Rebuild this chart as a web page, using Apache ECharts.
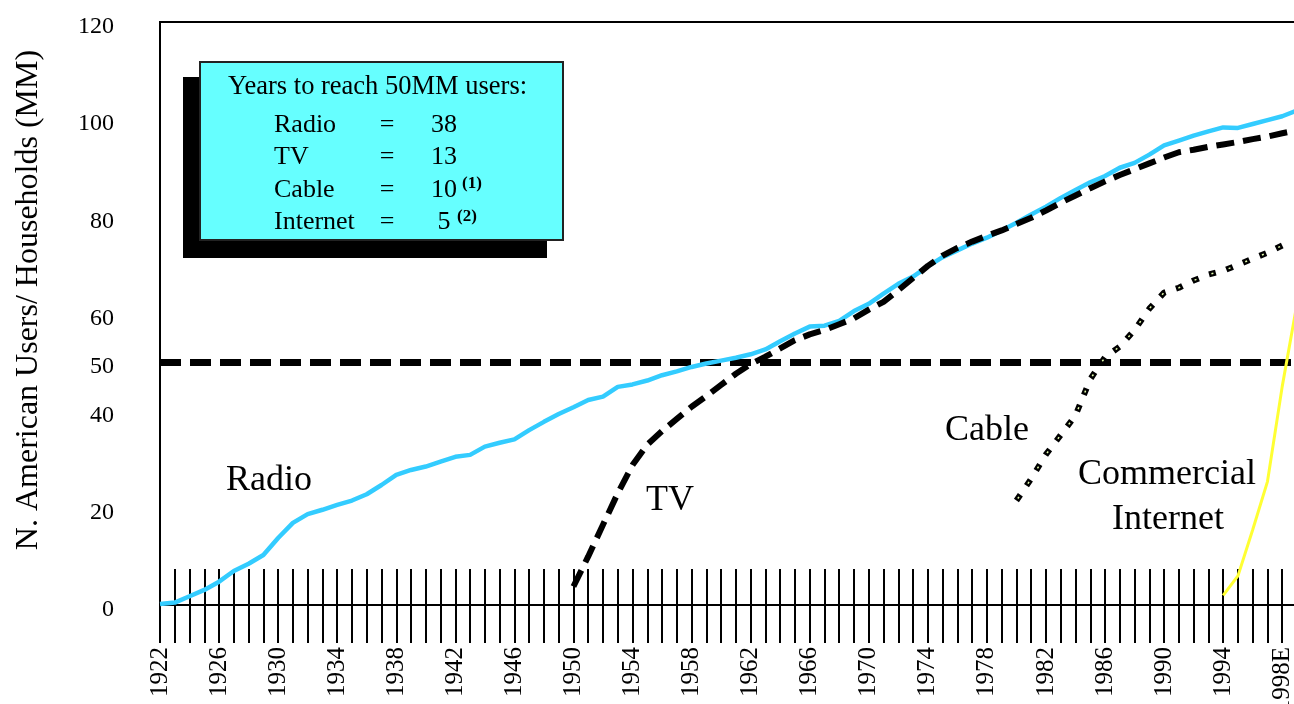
<!DOCTYPE html>
<html>
<head>
<meta charset="utf-8">
<script src="https://cdn.jsdelivr.net/npm/echarts@6/dist/echarts.min.js"></script>
<style>
  html, body { margin: 0; padding: 0; background: #fff; }
  #chart { width: 1294px; height: 704px; }
</style>
</head>
<body>
<div id="chart"></div>
<script>
// Years on the category axis (last slot runs just past the 1998 estimate)
const years = [
  '1922','1923','1924','1925','1926','1927','1928','1929','1930','1931',
  '1932','1933','1934','1935','1936','1937','1938','1939','1940','1941',
  '1942','1943','1944','1945','1946','1947','1948','1949','1950','1951',
  '1952','1953','1954','1955','1956','1957','1958','1959','1960','1961',
  '1962','1963','1964','1965','1966','1967','1968','1969','1970','1971',
  '1972','1973','1974','1975','1976','1977','1978','1979','1980','1981',
  '1982','1983','1984','1985','1986','1987','1988','1989','1990','1991',
  '1992','1993','1994','1995','1996','1997','1998E','1999'
];

// Radio households (MM), 1922 onward
const radio = [
  0.2, 0.5, 1.8, 3.1, 4.8, 7, 8.5, 10.3, 13.8, 16.9,
  18.7, 19.6, 20.6, 21.5, 22.8, 24.7, 26.8, 27.8, 28.5, 29.5,
  30.5, 30.9, 32.6, 33.4, 34.1, 36, 37.7, 39.3, 40.7, 42.2,
  42.9, 44.9, 45.4, 46.2, 47.3, 48.1, 49, 49.7, 50.3, 50.9,
  51.6, 52.6, 54.3, 55.9, 57.3, 57.5, 58.5, 60.5, 62, 64.1,
  66.1, 67.6, 69.7, 71.6, 73, 74.4, 75.6, 77.1, 78.7, 80.4,
  82, 83.8, 85.4, 87, 88.3, 90, 91, 92.7, 94.6, 95.6,
  96.6, 97.5, 98.3, 98.2, 99, 99.8, 100.6, 101.8
];

// TV households (MM), 1950 onward
const tvStart = '1950';
const tv = [
  3.8, 10, 16.5, 23, 28.8, 33, 35.8, 38.3, 40.8, 43,
  45.3, 47.6, 49.6, 51.1, 52.8, 54.5, 55.7, 56.6, 57.8, 59,
  60.8, 62.4, 64.8, 67.3, 69.8, 71.9, 73.5, 74.8, 76, 77.1,
  78.4, 79.7, 81.2, 82.8, 84.3, 85.8, 87.2, 88.5, 89.7, 90.9,
  92.1, 93.2, 93.7, 94.3, 94.8, 95.3, 95.9, 96.4, 97.1, 97.7
];

// Cable households (MM), 1980 onward
const cableStart = '1980';
const cable = [
  21.5, 26, 31, 35, 39, 46.5, 51, 53.2, 56.6, 61,
  64.3, 65.3, 66.8, 68, 68.8, 70, 71.3, 72.5, 74
];

// Commercial Internet users (MM), 1994 onward
const internetStart = '1994';
const internet = [2, 6, 15.5, 25.4, 45, 62];

// Threshold line and labelled y ticks
const threshold = 50;
const yTickLabels = [0, 20, 40, 50, 60, 80, 100, 120];

// Side table: years to reach 50MM users
const tableRows = ['Radio', 'TV', 'Cable', 'Internet'];
const tableYears = ['38', '13', '10', ' 5'];
const tableNotes = ['', '', '(1)', '(2)'];

function alignToYears(start, values) {
  const offset = years.indexOf(start);
  const out = new Array(years.length).fill(null);
  values.forEach((v, i) => { out[offset + i] = v; });
  return out;
}

const SERIF = '"Liberation Serif", "Times New Roman", serif';

// ---- text box with drop shadow ----
const graphic = [
  { type: 'rect', z: 10, shape: { x: 183, y: 77, width: 364, height: 181 }, style: { fill: '#000' } },
  { type: 'rect', z: 11, shape: { x: 200, y: 62, width: 363, height: 178 },
    style: { fill: '#66FFFF', stroke: '#222', lineWidth: 2 } },
  { type: 'text', z: 12, x: 228, y: 87,
    style: { text: 'Years to reach 50MM users:', fontFamily: SERIF, fontSize: 26.5, fill: '#000',
             align: 'left', verticalAlign: 'middle' } }
];
const rowY = [125, 157.5, 190, 222.5];
const noteX = [0, 0, 462, 457];
tableRows.forEach((name, i) => {
  graphic.push({ type: 'text', z: 12, x: 274, y: rowY[i],
    style: { text: name, fontFamily: SERIF, fontSize: 26, fill: '#000', align: 'left', verticalAlign: 'middle' } });
  graphic.push({ type: 'text', z: 12, x: 387, y: rowY[i],
    style: { text: '=', fontFamily: SERIF, fontSize: 26, fill: '#000', align: 'center', verticalAlign: 'middle' } });
  graphic.push({ type: 'text', z: 12, x: 431, y: rowY[i],
    style: { text: tableYears[i], fontFamily: SERIF, fontSize: 26, fill: '#000', align: 'left', verticalAlign: 'middle' } });
  if (tableNotes[i]) {
    graphic.push({ type: 'text', z: 12, x: noteX[i], y: rowY[i] - 6,
      style: { text: tableNotes[i], fontFamily: SERIF, fontSize: 17, fontWeight: 'bold', fill: '#000',
               align: 'left', verticalAlign: 'middle' } });
  }
});

// ---- series labels ----
const seriesLabels = [
  { text: 'Radio', x: 226, y: 481, align: 'left' },
  { text: 'TV', x: 646, y: 501, align: 'left' },
  { text: 'Cable', x: 945, y: 431, align: 'left' },
  { text: 'Commercial', x: 1167, y: 475, align: 'center' },
  { text: 'Internet', x: 1168, y: 520, align: 'center' }
];
seriesLabels.forEach(l => {
  graphic.push({ type: 'text', z: 12, x: l.x, y: l.y,
    style: { text: l.text, fontFamily: SERIF, fontSize: 36, fill: '#000', align: l.align, verticalAlign: 'middle' } });
});

// ---- y axis title ----
graphic.push({ type: 'text', z: 12, x: 29, y: 300, rotation: Math.PI / 2,
  style: { text: 'N. American Users/ Households (MM)', fontFamily: SERIF, fontSize: 32, fill: '#000',
           align: 'center', verticalAlign: 'middle' } });

const chart = echarts.init(document.getElementById('chart'), null, { renderer: 'canvas' });

// the estimate label sits a little to the right of its tick
const axisData = years.map(y => (y === '1998E'
  ? { value: y, textStyle: { padding: [16, 0, 0, 0] } }
  : y));

const baseX = {
  type: 'category',
  data: axisData,
  boundaryGap: false,
  position: 'bottom',
  gridIndex: 0
};

chart.setOption({
  animation: false,
  backgroundColor: '#fff',
  grid: {
    left: 160, top: 22, width: 1137, height: 583,
    show: true, borderColor: '#000', borderWidth: 2, backgroundColor: 'transparent',
    containLabel: false, outerBoundsMode: 'none'
  },
  xAxis: [
    Object.assign({}, baseX, {
      axisLine: { show: true, lineStyle: { color: '#000', width: 2 } },
      axisTick: { show: true, interval: 0, inside: false, length: 38, lineStyle: { color: '#000', width: 2 } },
      axisLabel: {
        interval: 3, rotate: 90, margin: 42, color: '#000',
        fontFamily: SERIF, fontSize: 25
      },
      splitLine: { show: false }
    }),
    Object.assign({}, baseX, {
      axisLine: { show: false },
      axisTick: { show: true, interval: 0, inside: true, length: 36, lineStyle: { color: '#000', width: 2 } },
      axisLabel: { show: false },
      splitLine: { show: false }
    })
  ],
  yAxis: {
    type: 'value',
    min: 0, max: 120, interval: 10,
    axisLine: { show: true, lineStyle: { color: '#000', width: 2 } },
    axisTick: { show: false },
    splitLine: { show: false },
    axisLabel: {
      margin: 46, color: '#000', fontFamily: SERIF, fontSize: 24,
      verticalAlign: 'top', lineHeight: 10,
      formatter: v => (yTickLabels.indexOf(v) >= 0 ? String(v) : '')
    }
  },
  graphic: graphic,
  series: [
    {
      name: 'Radio', type: 'line', data: radio, xAxisIndex: 0,
      showSymbol: false, symbol: 'none', z: 3,
      lineStyle: { color: '#33CCFF', width: 4.5 },
      markLine: {
        silent: true, symbol: ['none', 'none'], z: 2,
        label: { show: false },
        lineStyle: { color: '#000', width: 7, type: [21, 9], cap: 'butt' },
        data: [{ yAxis: threshold }]
      }
    },
    {
      name: 'TV', type: 'line', data: alignToYears(tvStart, tv), xAxisIndex: 0,
      showSymbol: false, symbol: 'none', z: 4,
      lineStyle: { color: '#000', width: 6, type: [18, 9], cap: 'butt' }
    },
    {
      name: 'Cable', type: 'line', data: alignToYears(cableStart, cable), xAxisIndex: 0,
      showSymbol: false, symbol: 'none', z: 4,
      lineStyle: { color: '#000', width: 6, type: [7, 11], cap: 'butt' }
    },
    {
      name: 'Cable core', type: 'line', data: alignToYears(cableStart, cable), xAxisIndex: 0,
      showSymbol: false, symbol: 'none', z: 5, silent: true,
      lineStyle: { color: '#e6ffb0', width: 1.5, type: [2, 16], dashOffset: -2.5, cap: 'butt' }
    },
    {
      name: 'Commercial Internet', type: 'line', data: alignToYears(internetStart, internet), xAxisIndex: 0,
      showSymbol: false, symbol: 'none', z: 4,
      lineStyle: { color: '#FFFF33', width: 3 }
    }
  ]
});
</script>
</body>
</html>
